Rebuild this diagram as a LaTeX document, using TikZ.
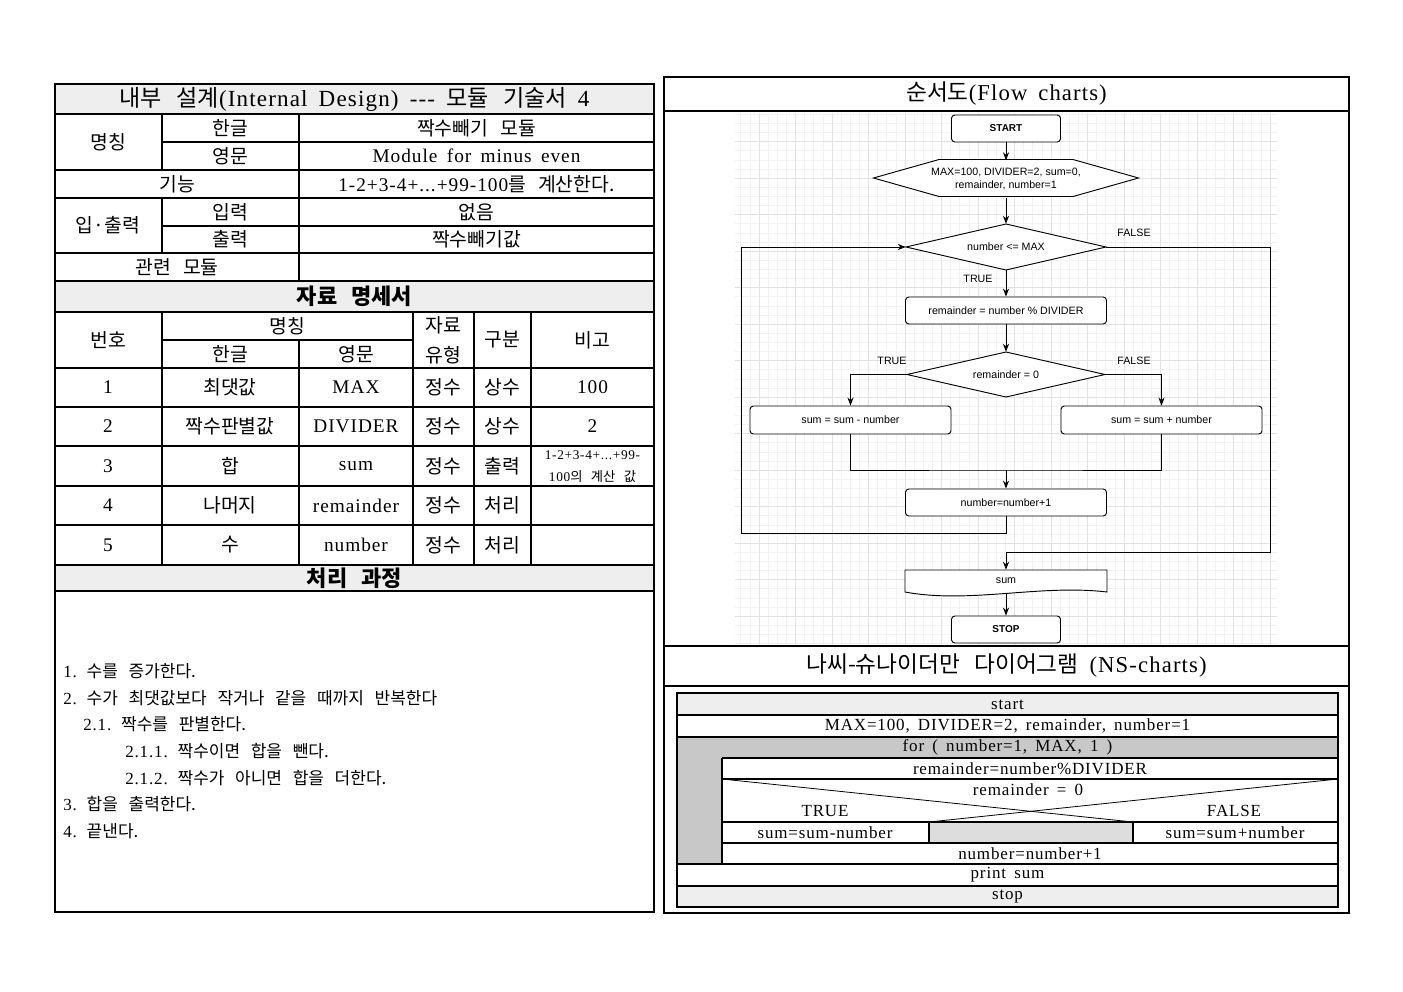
\documentclass[tikz,border=0pt]{standalone}
\usepackage{fontspec}
\setmainfont{Liberation Serif}[WordSpace=1.6,LetterSpace=5]
\newfontfamily\krf{Noto Sans CJK KR}[WordSpace=2.8]
\newfontfamily\fcs{Liberation Sans}
\usetikzlibrary{arrows.meta}
\newcommand{\KR}[1]{{\krf #1}}
\newcommand{\tsz}{\fontsize{14.5}{17}\selectfont}
\newcommand{\psz}{\fontsize{12.75}{15}\selectfont}
\newcommand{\bigsz}{\fontsize{17.3}{20}\selectfont}
\newcommand{\rtsz}{\fontsize{17}{20}\selectfont}
\newcommand{\midsz}{\fontsize{16.5}{19}\selectfont}
\newcommand{\smsz}{\fontsize{10}{12}\selectfont}
\newcommand{\fcsz}{\fcs\fontsize{8}{9.75}\selectfont}
\newcommand{\fcbold}{\fcs\bfseries\fontsize{7.5}{9}\selectfont}
\definecolor{hdr}{HTML}{EEEEEE}
\definecolor{nsgray}{HTML}{C8C8C8}
\definecolor{nsmid}{HTML}{DDDDDD}
\definecolor{gmin}{HTML}{F2F2F2}
\definecolor{gmaj}{HTML}{E2E2E2}
\begin{document}
\begin{tikzpicture}[x=0.75pt,y=-0.75pt,
 tl/.style={line width=0.9pt},
 tx/.style={inner sep=0pt,font=\tsz},
 px/.style={inner sep=0pt,font=\psz,anchor=west},
 nst/.style={inner sep=0pt,font=\psz},
 fcl/.style={line width=0.7pt},
 fcar/.style={fcl,-{Stealth[length=6pt,width=4.6pt]}},
 fcbox/.style={draw,fill=white,fcl,rounded corners=2.5pt,inner sep=0pt,font=\fcsz},
 fct/.style={inner sep=0pt,font=\fcsz,align=center}]
\useasboundingbox[fill=white] (0,0) rectangle (1403,992);

%% ================= LEFT PANEL =================
\fill[hdr] (55,84) rectangle (654,114);
\fill[hdr] (55,281) rectangle (654,312);
\fill[hdr] (55,565) rectangle (654,591);
\draw[tl] (55,84) rectangle (654,912);
\foreach \yy in {114,170,198,253,281,312,368,407,446,486,525,565,591}
  \draw[tl] (55,\yy) -- (654,\yy);
\draw[tl] (162,142) -- (654,142);
\draw[tl] (162,226) -- (654,226);
\draw[tl] (162,340) -- (413,340);
\draw[tl] (162,114) -- (162,170);
\draw[tl] (162,198) -- (162,253);
\draw[tl] (299,114) -- (299,281);
\draw[tl] (162,312) -- (162,565);
\draw[tl] (299,340) -- (299,565);
\draw[tl] (413,312) -- (413,565);
\draw[tl] (474,312) -- (474,565);
\draw[tl] (531,312) -- (531,565);

\node[tx,font=\bigsz] (title) at (354.5,99) {\KR{내부 설계}(Internal Design) -{}-{}- \KR{모듈 기술서} 4};
\node[tx] (mc) at (108,142) {\KR{명칭}};
\node[tx] (hg) at (230,128) {\KR{한글}};
\node[tx] (ym) at (230,156) {\KR{영문}};
\node[tx] (hgv) at (476.5,128) {\KR{짝수빼기 모듈}};
\node[tx] (ymv) at (476.5,156) {Module for minus even};
\node[tx] (gn) at (177,184) {\KR{기능}};
\node[tx] (gnv) at (476.5,184) {1-2+3-4+...+99-100\KR{를 계산한다.}};
\node[tx] (io) at (108,225.5) {\KR{입·출력}};
\node[tx] (ip) at (230,212) {\KR{입력}};
\node[tx] (op) at (230,239.5) {\KR{출력}};
\node[tx] (ipv) at (476.5,212) {\KR{없음}};
\node[tx] (opv) at (476.5,239.5) {\KR{짝수빼기값}};
\node[tx] (rel) at (177,267) {\KR{관련 모듈}};
\node[tx,font=\midsz] (ds) at (354.5,296.5) {\KR{\bfseries 자료 명세서}};

\node[tx] (h1) at (108,340) {\KR{번호}};
\node[tx] (h2) at (287.5,326) {\KR{명칭}};
\node[tx] (h3) at (230,354) {\KR{한글}};
\node[tx] (h4) at (356,354) {\KR{영문}};
\node[tx] (h5) at (443.5,325) {\KR{자료}};
\node[tx] (h6) at (443.5,355) {\KR{유형}};
\node[tx] (h7) at (502.5,340) {\KR{구분}};
\node[tx] (h8) at (592.5,340) {\KR{비고}};

\node[tx] (r1a) at (108,387.5) {1};
\node[tx] (r1b) at (230,387.5) {\KR{최댓값}};
\node[tx] (r1c) at (356,387.5) {MAX};
\node[tx] (r1d) at (443.5,387.5) {\KR{정수}};
\node[tx] (r1e) at (502.5,387.5) {\KR{상수}};
\node[tx] (r1f) at (592.5,387.5) {100};

\node[tx] (r2a) at (108,426.5) {2};
\node[tx] (r2b) at (230,426.5) {\KR{짝수판별값}};
\node[tx] (r2c) at (356,426.5) {DIVIDER};
\node[tx] (r2d) at (443.5,426.5) {\KR{정수}};
\node[tx] (r2e) at (502.5,426.5) {\KR{상수}};
\node[tx] (r2f) at (592.5,426.5) {2};

\node[tx] (r3a) at (108,466) {3};
\node[tx] (r3b) at (230,466) {\KR{합}};
\node[tx] (r3c) at (356,466) {sum};
\node[tx] (r3d) at (443.5,466) {\KR{정수}};
\node[tx] (r3e) at (502.5,466) {\KR{출력}};
\node[inner sep=0pt,font=\smsz] (r3f) at (592.5,455) {1-2+3-4+...+99-};
\node[inner sep=0pt,font=\smsz] (r3g) at (592.5,477) {100\KR{의 계산 값}};

\node[tx] (r4a) at (108,505.5) {4};
\node[tx] (r4b) at (230,505.5) {\KR{나머지}};
\node[tx] (r4c) at (356,505.5) {remainder};
\node[tx] (r4d) at (443.5,505.5) {\KR{정수}};
\node[tx] (r4e) at (502.5,505.5) {\KR{처리}};

\node[tx] (r5a) at (108,545) {5};
\node[tx] (r5b) at (230,545) {\KR{수}};
\node[tx] (r5c) at (356,545) {number};
\node[tx] (r5d) at (443.5,545) {\KR{정수}};
\node[tx] (r5e) at (502.5,545) {\KR{처리}};

\node[tx,font=\midsz] (pc) at (354.5,578) {\KR{\bfseries 처리 과정}};

\node[px] (p1) at (63,671) {1. \KR{수를 증가한다.}};
\node[px] (p2) at (63,698) {2. \KR{수가 최댓값보다 작거나 같을 때까지 반복한다}};
\node[px] (p3) at (83,724.5) {2.1. \KR{짝수를 판별한다.}};
\node[px] (p4) at (125,751) {2.1.1. \KR{짝수이면 합을 뺀다.}};
\node[px] (p5) at (125,778) {2.1.2. \KR{짝수가 아니면 합을 더한다.}};
\node[px] (p6) at (63,804.5) {3. \KR{합을 출력한다.}};
\node[px] (p7) at (63,831) {4. \KR{끝낸다.}};

%% ================= RIGHT PANEL =================
\begin{scope}
\clip (735,113) rectangle (1277,644);
\foreach \i in {-3,...,60}
  \draw[gmin,line width=0.5pt] ({759+\i*9.125},100) -- ({759+\i*9.125},660);
\foreach \i in {-4,...,58}
  \draw[gmin,line width=0.5pt] (720,{141.7+\i*9.125}) -- (1290,{141.7+\i*9.125});
\foreach \i in {-1,...,15}
  \draw[gmaj,line width=0.6pt] ({759+\i*36.5},100) -- ({759+\i*36.5},660);
\foreach \i in {-1,...,14}
  \draw[gmaj,line width=0.6pt] (720,{141.7+\i*36.5}) -- (1290,{141.7+\i*36.5});
\end{scope}

\draw[tl] (664,77) rectangle (1349,913);
\draw[tl] (664,111) -- (1349,111);
\draw[tl] (664,646) -- (1349,646);
\draw[tl] (664,686) -- (1349,686);
\node[tx,font=\rtsz] (fctitle) at (1006.5,94) {\KR{순서도}(Flow charts)};
\node[tx,font=\rtsz] (nstitle) at (1006.5,666) {\KR{나씨-슈나이더만 다이어그램} (NS-charts)};

% flowchart
\node[fcbox,minimum width=109*0.75pt,minimum height=27*0.75pt,font=\fcbold] (start) at (1006,128.5) {START};
\filldraw[fill=white,fcl] (873.5,178) -- (939,159.5) -- (1073,159.5) -- (1138.5,178) -- (1073,196.5) -- (939,196.5) -- cycle;
\node[fct,minimum width=265*0.75pt,minimum height=37*0.75pt] (init) at (1006,179) {MAX=100, DIVIDER=2, sum=0,\\remainder, number=1};
\filldraw[fill=white,fcl] (906,247) -- (1006,224) -- (1106,247) -- (1006,270) -- cycle;
\node[fct,minimum width=200*0.75pt,minimum height=46*0.75pt] (d1) at (1006,247) {number <= MAX};
\node[fcbox,minimum width=201*0.75pt,minimum height=27*0.75pt] (rem) at (1006,310.5) {remainder = number \% DIVIDER};
\filldraw[fill=white,fcl] (907,374.5) -- (1006,352) -- (1105,374.5) -- (1006,397) -- cycle;
\node[fct,minimum width=198*0.75pt,minimum height=45*0.75pt] (d2) at (1006,374.5) {remainder = 0};
\node[fcbox,minimum width=201*0.75pt,minimum height=28*0.75pt] (subL) at (850.5,420) {sum = sum - number};
\node[fcbox,minimum width=201*0.75pt,minimum height=28*0.75pt] (addR) at (1161.5,420) {sum = sum + number};
\node[fcbox,minimum width=201*0.75pt,minimum height=27*0.75pt] (inc) at (1006,502.5) {number=number+1};
\filldraw[fill=white,fcl] (905,592) -- (905,570) -- (1107,570) -- (1107,592) .. controls (1040,584) and (970,604) .. (905,592) -- cycle;
\node[fct,minimum width=202*0.75pt,minimum height=22*0.75pt] (out) at (1006,581) {sum};
\node[fcbox,minimum width=109*0.75pt,minimum height=27*0.75pt,font=\fcbold] (stop) at (1006,629.5) {STOP};

\draw[fcar] (start.south) -- (init.north);
\draw[fcar] (init.south) -- (d1.north);
\draw[fcar] (d1.south) -- (rem.north);
\draw[fcar] (rem.south) -- (d2.north);
\draw[fcar] (d2.west) -| (subL.north);
\draw[fcar] (d2.east) -| (addR.north);
\coordinate (mj) at (1006,470);
\draw[fcl] (subL.south) |- (mj) -| (addR.south);
\draw[fcar] (mj) -- (inc.north);
\coordinate (lp) at (741,533);
\draw[fcar] (inc.south) |- (lp) |- (d1.west);
\coordinate (fr) at (1270,552);
\draw[fcar] (d1.east) -| (fr) -| (out.north);
\draw[fcar] ([yshift=-1.5pt]out.south) -- (stop.north);

\node[fct] (t1) at (978,279) {TRUE};
\node[fct] (f1) at (1134,233) {FALSE};
\node[fct] (t2) at (892,361) {TRUE};
\node[fct] (f2) at (1134,361) {FALSE};

% NS chart
\fill[hdr] (677,693) rectangle (1338,715);
\fill[hdr] (677,886) rectangle (1338,907);
\fill[nsgray] (677,737) rectangle (1338,758);
\fill[nsgray] (677,758) rectangle (722,864);
\fill[nsmid] (929,822) rectangle (1133,843);
\draw[tl] (677,693) rectangle (1338,907);
\draw[tl] (677,715) -- (1338,715);
\draw[tl] (677,737) -- (1338,737);
\draw[tl] (722,758) -- (1338,758);
\draw[tl] (722,779) -- (1338,779);
\draw[tl] (722,822) -- (1338,822);
\draw[tl] (722,843) -- (1338,843);
\draw[tl] (677,864) -- (1338,864);
\draw[tl] (677,886) -- (1338,886);
\draw[tl] (722,758) -- (722,864);
\draw[tl] (929,822) -- (929,843);
\draw[tl] (1133,822) -- (1133,843);
\draw[line width=0.6pt] (722,779) -- (1133,822);
\draw[line width=0.6pt] (1338,779) -- (929,822);

\node[nst] (ns1) at (1007.5,704.5) {start};
\node[nst] (ns2) at (1007.5,726) {MAX=100, DIVIDER=2, remainder, number=1};
\node[nst] (ns3) at (1007.5,747.5) {for ( number=1, MAX, 1 )};
\node[nst] (ns4) at (1030,768.5) {remainder=number\%DIVIDER};
\node[nst] (ns5) at (1028,790) {remainder = 0};
\node[nst] (ns6) at (825,811) {TRUE};
\node[nst] (ns7) at (1234,811) {FALSE};
\node[nst] (ns8) at (825,832.5) {sum=sum-number};
\node[nst] (ns9) at (1235,832.5) {sum=sum+number};
\node[nst] (ns10) at (1030,853.5) {number=number+1};
\node[nst] (ns11) at (1007.5,875) {print sum};
\node[nst] (ns12) at (1007.5,896.5) {stop};
\end{tikzpicture}
\end{document}
